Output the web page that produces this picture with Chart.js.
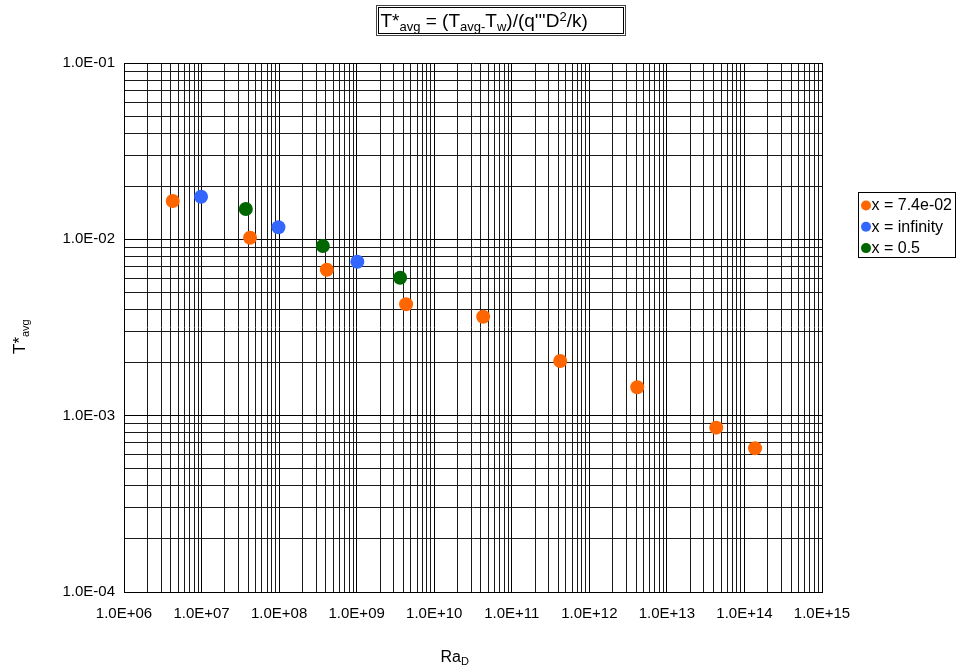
<!DOCTYPE html>
<html>
<head>
<meta charset="utf-8">
<script src="https://cdn.jsdelivr.net/npm/chart.js@4.4.0/dist/chart.umd.min.js"></script>
<style>
  html, body { margin: 0; padding: 0; background: #fff; }
  canvas { display: block; }
</style>
</head>
<body>
<canvas id="c" width="959" height="665"></canvas>
<script>
// Series: average dimensionless temperature vs. Rayleigh number
const seriesNames = ['x = 7.4e-02', 'x = infinity', 'x = 0.5'];
const seriesColors = ['#FF6600', '#3366FF', '#006600'];

const raOrange = [4.25e6, 4.22e7, 4.12e8, 4.34e9, 4.28e10, 4.21e11, 4.15e12, 4.33e13, 1.37e14];
const tOrange  = [0.0165, 0.0102, 0.00672, 0.00428, 0.00364, 0.00204, 0.00145, 0.000855, 0.000653];

const raBlue = [9.85e6, 9.8e7, 1.02e9];
const tBlue  = [0.01745, 0.0117, 0.00746];

const raGreen = [3.72e7, 3.66e8, 3.63e9];
const tGreen  = [0.01485, 0.00916, 0.00605];

// Axis labels at each decade; grid lines at every multiple within a decade
const xTickLabels = ['1.0E+06', '1.0E+07', '1.0E+08', '1.0E+09', '1.0E+10',
                     '1.0E+11', '1.0E+12', '1.0E+13', '1.0E+14', '1.0E+15'];
const yTickLabels = ['1.0E-04', '1.0E-03', '1.0E-02', '1.0E-01'];
const decadeMultiples = [1, 2, 3, 4, 5, 6, 7, 8, 9];

const FONT = '"Liberation Sans", Arial, Helvetica, sans-serif';

function toPoints(xs, ys) {
  return xs.map((x, i) => ({ x: x, y: ys[i] }));
}

function tickValues(labels) {
  const decades = labels.map(Number);
  const vals = [];
  for (let i = 0; i < decades.length - 1; i++) {
    decadeMultiples.forEach(m => vals.push(m * decades[i]));
  }
  vals.push(decades[decades.length - 1]);
  return vals;
}

function isDecade(v) {
  const l = Math.log10(v);
  return Math.abs(l - Math.round(l)) < 1e-9;
}

function labelFor(labels) {
  return function (value) {
    if (!isDecade(value)) return '';
    const hit = labels.find(s => Math.abs(Math.log10(Number(s)) - Math.log10(value)) < 1e-9);
    return hit || '';
  };
}

function gridColor(ctx) {
  return (ctx.tick && isDecade(ctx.tick.value)) ? '#000000' : '#1a1a1a';
}

// Draw text with subscript / superscript runs; kind: 0 normal, -1 sub, 1 sup
function drawRich(ctx, parts, x, y, size) {
  let cx = x;
  for (const [t, kind] of parts) {
    const s = kind === 0 ? size : Math.round(size * 0.66);
    ctx.font = s + 'px ' + FONT;
    const dy = kind === -1 ? size * 0.22 : (kind === 1 ? -size * 0.3 : 0);
    ctx.fillText(t, cx, y + dy);
    cx += ctx.measureText(t).width;
  }
  return cx;
}

const decorations = {
  id: 'decorations',
  afterDraw(chart) {
    const ctx = chart.ctx;
    ctx.save();
    ctx.fillStyle = '#000';
    ctx.strokeStyle = '#000';
    ctx.textBaseline = 'alphabetic';
    ctx.textAlign = 'left';

    // Title in a double-ruled box
    ctx.lineWidth = 1;
    ctx.fillStyle = '#fff';
    ctx.fillRect(376, 5, 250, 31);
    ctx.strokeStyle = '#444';
    ctx.strokeRect(376.5, 5.5, 249, 30);
    ctx.strokeStyle = '#000';
    ctx.strokeRect(378.5, 7.5, 245, 26);
    ctx.fillStyle = '#000';
    drawRich(ctx, [['T', 0], ['*', 0], ['avg', -1], [' = (T', 0], ['avg-', -1], ['T', 0],
                   ['w', -1], [')/(q\'\'\'D', 0], ['2', 1], ['/k)', 0]], 380.5, 26.7, 19);

    // Y axis title (rotated)
    ctx.save();
    ctx.translate(25, 354);
    ctx.rotate(-Math.PI / 2);
    drawRich(ctx, [['T', 0], ['*', 0], ['avg', -1]], 0, 0, 17);
    ctx.restore();

    // X axis title
    drawRich(ctx, [['Ra', 0], ['D', -1]], 440.5, 661.5, 16);

    // Legend
    const lx = 858, ly = 192, lw = 97, lh = 65;
    ctx.fillStyle = '#fff';
    ctx.fillRect(lx, ly, lw, lh);
    ctx.strokeStyle = '#000';
    ctx.lineWidth = 1;
    ctx.strokeRect(lx + 0.5, ly + 0.5, lw, lh);
    ctx.font = '16px ' + FONT;
    ctx.textBaseline = 'middle';
    chart.data.datasets.forEach((ds, i) => {
      const cy = 205.5 + i * 21.3;
      ctx.fillStyle = ds.backgroundColor;
      ctx.beginPath();
      ctx.arc(866, cy, 5, 0, Math.PI * 2);
      ctx.fill();
      ctx.fillStyle = '#000';
      ctx.fillText(ds.label, 871.5, cy + 0.5);
    });
    ctx.restore();
  }
};

const datasets = [
  { label: seriesNames[0], data: toPoints(raOrange, tOrange), backgroundColor: seriesColors[0] },
  { label: seriesNames[1], data: toPoints(raBlue, tBlue), backgroundColor: seriesColors[1] },
  { label: seriesNames[2], data: toPoints(raGreen, tGreen), backgroundColor: seriesColors[2] }
].map(d => Object.assign(d, { pointRadius: 7, pointBorderWidth: 0, borderWidth: 0, pointHoverRadius: 7 }));

new Chart(document.getElementById('c').getContext('2d'), {
  type: 'scatter',
  data: { datasets: datasets },
  options: {
    responsive: false,
    animation: false,
    devicePixelRatio: 1,
    layout: { padding: { left: 0, right: 137, top: 63, bottom: 0 } },
    plugins: {
      legend: { display: false },
      title: { display: false },
      tooltip: { enabled: false }
    },
    scales: {
      x: {
        type: 'logarithmic',
        min: Number(xTickLabels[0]),
        max: Number(xTickLabels[xTickLabels.length - 1]),
        afterBuildTicks: s => { s.ticks = tickValues(xTickLabels).map(v => ({ value: v, major: isDecade(v) })); },
        afterFit: s => { s.height = 73; },
        grid: { color: gridColor, lineWidth: 1, drawTicks: false },
        border: { display: true, color: '#000', width: 1 },
        ticks: {
          autoSkip: false, maxRotation: 0, minRotation: 0, padding: 13,
          color: '#000', font: { family: FONT, size: 15 },
          callback: labelFor(xTickLabels)
        }
      },
      y: {
        type: 'logarithmic',
        min: Number(yTickLabels[0]),
        max: Number(yTickLabels[yTickLabels.length - 1]),
        afterBuildTicks: s => { s.ticks = tickValues(yTickLabels).map(v => ({ value: v, major: isDecade(v) })); },
        afterFit: s => { s.width = 124; },
        grid: { color: gridColor, lineWidth: 1, drawTicks: false },
        border: { display: true, color: '#000', width: 1 },
        ticks: {
          autoSkip: false, padding: 9,
          color: '#000', font: { family: FONT, size: 15 },
          callback: labelFor(yTickLabels)
        }
      }
    }
  },
  plugins: [decorations]
});
</script>
</body>
</html>
